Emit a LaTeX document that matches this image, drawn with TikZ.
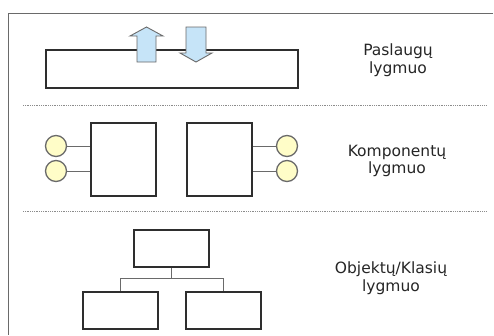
\documentclass[tikz,border=0pt]{standalone}
\usepackage{fontspec}
\setmainfont{DejaVu Sans}
\usetikzlibrary{positioning}

\definecolor{framegray}{HTML}{6A6A6A}
\definecolor{boxgray}{HTML}{2E2E2E}
\definecolor{portyellow}{HTML}{FFFDC8}
\definecolor{flowblue}{HTML}{C6E4F8}

\tikzset{
    box/.style={draw=boxgray, line width=2pt, fill=white, inner sep=0pt},
    port/.style={circle, draw=framegray, line width=1.3pt, fill=portyellow,
        minimum size=21pt, inner sep=0pt},
    wire/.style={draw=framegray, line width=1pt},
    flow/.style={draw=framegray, line width=0.9pt, fill=flowblue, line join=miter},
    sep/.style={draw=black!45, line width=1pt, dash pattern=on 1pt off 0.8pt},
    level/.style={align=center, text=black!85, font=\fontsize{15.5}{17.5}\selectfont}
}

\begin{document}
\begin{tikzpicture}[x=1pt,y=-1pt]
    \useasboundingbox (0,0) rectangle (494,335);
    \fill[white] (0,0) rectangle (494,335);

    % outer frame (top and left edges only)
    \draw[framegray, line width=1pt] (493,13) -- (8,13) -- (8,335);

    % separators between the levels
    \draw[sep] (23,105) -- (487,105);
    \draw[sep] (23,211) -- (487,211);

    %services
    \node[box, minimum width=252pt, minimum height=38pt] (svc) at (172,69) {};
    \draw[flow] (137,62) -- (137,36) -- (130,36) -- (146.5,27) -- (163,36)
        -- (156,36) -- (156,62) -- cycle;
    \draw[flow] (186,27) -- (186,53) -- (180,53) -- (196,62) -- (212,53)
        -- (206,53) -- (206,27) -- cycle;
    \node[level] (svclbl) at (398,60) {Paslaugų\\lygmuo};

    %components
    \node[box, minimum width=65pt, minimum height=73pt] (cl) at (123.5,159.5) {};
    \node[box, minimum width=65pt, minimum height=73pt] (cr) at (219,159.5) {};
    \node[port] (pl1) at (56,146) {};
    \node[port] (pl2) at (56,171) {};
    \node[port] (pr1) at (287,146) {};
    \node[port] (pr2) at (287,171) {};
    \draw[wire] (pl1.east) -- (pl1 -| cl.west);
    \draw[wire] (pl2.east) -- (pl2 -| cl.west);
    \draw[wire] (pr1.west) -- (pr1 -| cr.east);
    \draw[wire] (pr2.west) -- (pr2 -| cr.east);
    \node[level] (complbl) at (397,161) {Komponentų\\lygmuo};

    %objects / classes
    \node[box, minimum width=75pt, minimum height=37pt] (obj) at (171.5,248.5) {};
    \node[box, minimum width=75pt, minimum height=37pt] (cla) at (120.5,310.5) {};
    \node[box, minimum width=75pt, minimum height=37pt] (clb) at (223.5,310.5) {};
    \coordinate (fork) at (171.5,278);
    \draw[wire] (obj.south) -- (fork);
    \draw[wire] (fork) -| (cla.north);
    \draw[wire] (fork) -| (clb.north);
    \node[level] (objlbl) at (391,278) {Objektų/Klasių\\lygmuo};
\end{tikzpicture}
\end{document}
